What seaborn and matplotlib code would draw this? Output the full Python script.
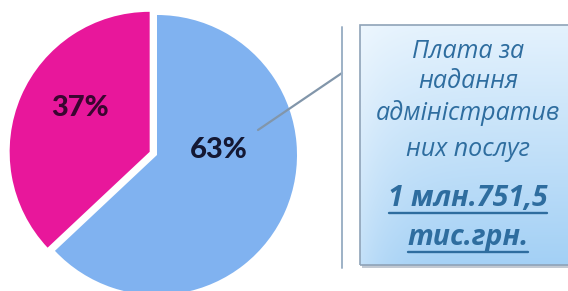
import numpy as np
import matplotlib
matplotlib.use("Agg")
import matplotlib.pyplot as plt
import seaborn as sns
from matplotlib.patches import Rectangle

# ---- data ----
shares = [63, 37]
slice_colors = ["#80b2f0", "#e8179b"]
label_colors = ["#141833", "#3a0630"]
callout_lines = ["Плата за", "надання", "адміністратив", "них послуг"]
amount_lines = ["1 млн.751,5", "тис.грн."]

sns.set_theme(style="white")
plt.rcParams["font.family"] = ["Lato", "DejaVu Sans"]

W, H = 568, 291
fig = plt.figure(figsize=(W / 100, H / 100), dpi=100)
ax = fig.add_axes([0, 0, 1, 1])
ax.set_xlim(0, W)
ax.set_ylim(0, H)
ax.set_axis_off()


def Y(py):
    return H - py


# ---- pie ----
cx, cy, r = 157, 155, 140
wedges, _ = ax.pie(shares, colors=slice_colors, startangle=90, counterclock=False,
                   center=(cx, Y(cy)), radius=r, explode=[0, 8],
                   wedgeprops=dict(linewidth=0), frame=True)
ax.set_xlim(0, W)
ax.set_ylim(0, H)
ax.set_aspect("equal")
ax.set_axis_off()

label_pos = [(219, 150), (80, 108)]
for v, (lx, ly), col in zip(shares, label_pos, label_colors):
    ax.text(lx, Y(ly), f"{v}%", ha="center", va="center", fontsize=21,
            fontweight="black", color=col)

# ---- leader + bracket ----
ax.plot([258, 342], [Y(130), Y(73)], color="#8296aa", lw=1.6, solid_capstyle="round")
ax.plot([342, 342], [Y(27), Y(268)], color="#9db1c6", lw=1.4)

# ---- callout box ----
bx0, bx1, by0, by1 = 360, 580, 25, 265
ax.add_patch(Rectangle((bx0 + 2, Y(by1 + 3)), bx1 - bx0, by1 - by0,
                       facecolor="#9aa6b4", edgecolor="none", alpha=0.6, zorder=2))
top = np.array([0xe4, 0xf2, 0xfd]) / 255
bot = np.array([0xa3, 0xd0, 0xf5]) / 255
t = np.linspace(0, 1, 200)[:, None]
grad = (top[None, :] * (1 - t) + bot[None, :] * t)
xs = np.linspace(0, 1, 100)[None, :, None]
img = grad[:, None, :] * np.ones((1, 100, 1))
img = img + (1 - img) * 0.35 * np.exp(-xs / 0.15)
ax.imshow(img, extent=[bx0, bx1, Y(by1), Y(by0)], aspect="auto", zorder=3,
          interpolation="bilinear")
ax.add_patch(Rectangle((bx0, Y(by1)), bx1 - bx0, by1 - by0, facecolor="none",
                       edgecolor="#8fa3b8", lw=1.2, zorder=4))
ax.set_xlim(0, W)
ax.set_ylim(0, H)

txt_col = "#2e6d9f"
tx = 468
for s, py in zip(callout_lines, [52, 82, 113, 150]):
    ax.text(tx, Y(py), s, ha="center", va="center", fontsize=18, style="italic",
            fontweight="medium", color=txt_col, zorder=5,
            family=["Open Sans", "DejaVu Sans"])

amount_texts = []
for s, py in zip(amount_lines, [199, 238]):
    tt = ax.text(tx, Y(py), s, ha="center", va="center", fontsize=20.5, style="italic",
                 fontweight="bold", color=txt_col, zorder=5,
                 family=["Open Sans", "DejaVu Sans"])
    amount_texts.append((tt, py))

fig.canvas.draw()
inv = ax.transData.inverted()
for tt, py in amount_texts:
    bb = tt.get_window_extent()
    (x0, _), (x1, _) = inv.transform([(bb.x0, bb.y0), (bb.x1, bb.y0)])
    ax.plot([x0 + 1, x1 - 1], [Y(py + 14), Y(py + 14)], color=txt_col, lw=1.7, zorder=5)

fig.savefig("out.png", dpi=100)
